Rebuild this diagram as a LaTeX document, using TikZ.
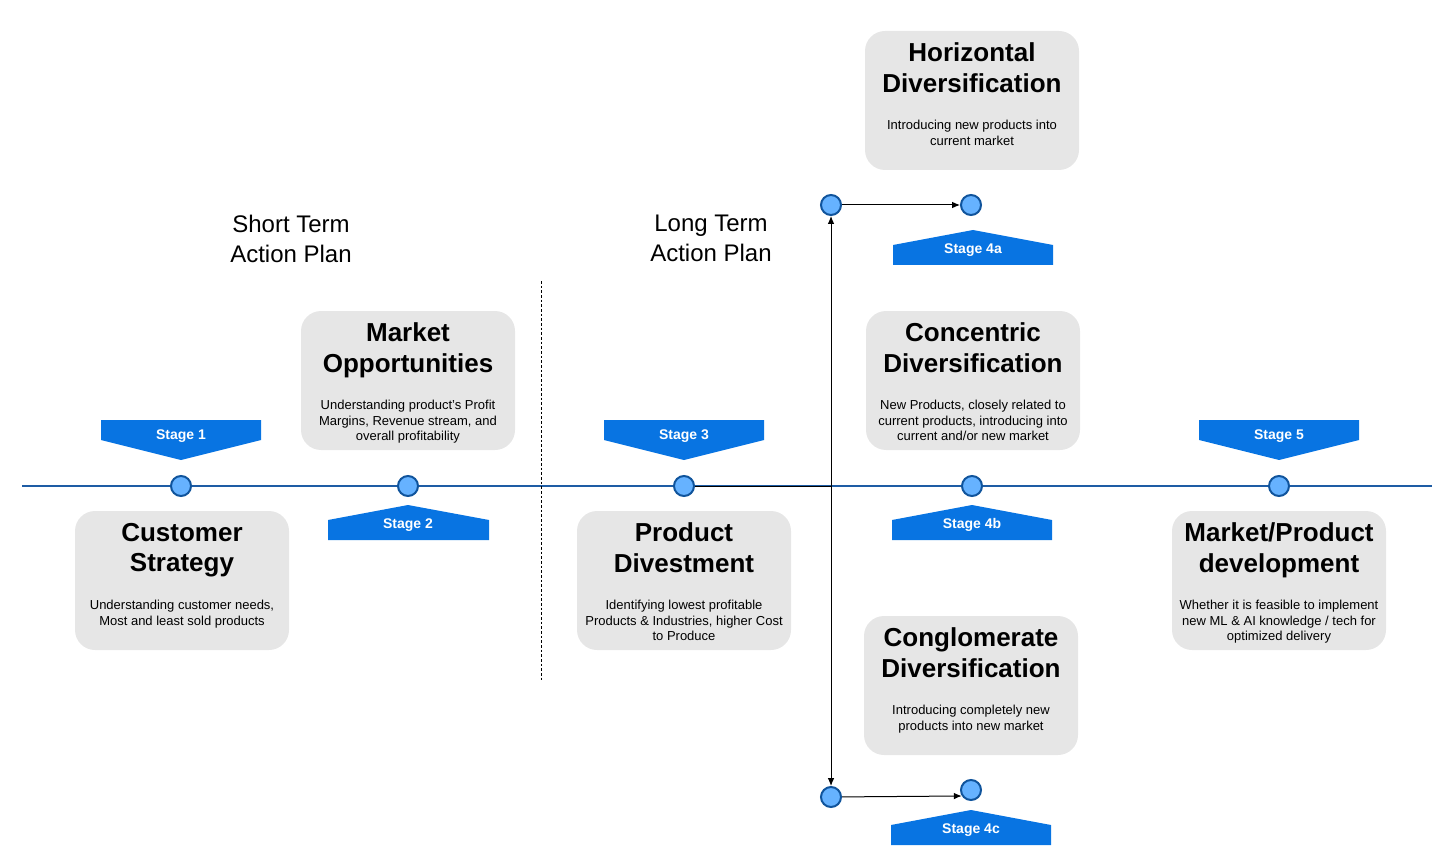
\documentclass[tikz,border=0pt]{standalone}
\usepackage{fontspec}
\setmainfont{Liberation Sans}
\usepackage{tikz}
\usetikzlibrary{arrows.meta}
\usetikzlibrary{positioning}

\definecolor{cardgray}{RGB}{230,230,230}
\definecolor{stageblue}{RGB}{8,116,226}
\definecolor{dotfill}{RGB}{102,178,255}
\definecolor{dotline}{RGB}{16,84,156}
\definecolor{lineblue}{RGB}{30,92,164}

\tikzset{
  card/.style={rectangle, rounded corners=15pt, fill=cardgray, minimum width=160.5pt, minimum height=104.25pt},
  cardtitle/.style={inner sep=0pt, align=center, font=\fontsize{19.5}{23}\selectfont\bfseries},
  carddesc/.style={inner sep=0pt, align=center, font=\fontsize{9.75}{11.7}\selectfont},
  stagelabel/.style={inner sep=0pt, text=white, font=\fontsize{10.5}{12}\selectfont\bfseries},
  planlabel/.style={inner sep=0pt, align=center, font=\fontsize{18}{22.5}\selectfont},
  dot/.style={circle, inner sep=0pt, minimum size=15pt, fill=dotfill, draw=dotline, line width=1.5pt},
  link/.style={draw=black, line width=0.75pt, -{Latex[length=6pt, width=5pt]}}
}

\begin{document}
\begin{tikzpicture}[x=0.75pt, y=-0.75pt]
\useasboundingbox (0,0) rectangle (1452,866);

% timeline and divider
\draw [lineblue, line width=1.5pt] (22,486) -- (1432,486);
\draw [dash pattern=on 2pt off 1.5pt, line width=0.75pt] (541,281) -- (541,681);

\node [planlabel, anchor=north] (short) at (291,215) {Short Term\\Action Plan};
\node [planlabel, anchor=north] (long) at (711,215) {Long Term\\Action Plan};

% cards
\node [card] (cs) at (182,580.5) {};
\node [cardtitle, below=9pt of cs.north] (cst) {Customer\\Strategy};
\node [carddesc, below=66.75pt of cs.north] (csd) {Understanding customer needs,\\Most and least sold products};

\node [card] (mo) at (408,380.5) {};
\node [cardtitle, below=9pt of mo.north] (mot) {Market\\Opportunities};
\node [carddesc, below=66.75pt of mo.north] (mod) {Understanding product's Profit\\Margins, Revenue stream, and\\overall profitability};

\node [card] (pd) at (684,580.5) {};
\node [cardtitle, below=9pt of pd.north] (pdt) {Product\\Divestment};
\node [carddesc, below=66.75pt of pd.north] (pdd) {Identifying lowest profitable\\Products \& Industries, higher Cost\\to Produce};

\node [card] (hd) at (972,100.5) {};
\node [cardtitle, below=9pt of hd.north] (hdt) {Horizontal\\Diversification};
\node [carddesc, below=66.75pt of hd.north] (hdd) {Introducing new products into\\current market};

\node [card] (cd) at (973,380.5) {};
\node [cardtitle, below=9pt of cd.north] (cdt) {Concentric\\Diversification};
\node [carddesc, below=66.75pt of cd.north] (cdd) {New Products, closely related to\\current products, introducing into\\current and/or new market};

\node [card] (cg) at (971,685.5) {};
\node [cardtitle, below=9pt of cg.north] (cgt) {Conglomerate\\Diversification};
\node [carddesc, below=66.75pt of cg.north] (cgd) {Introducing completely new\\products into new market};

\node [card] (mp) at (1279,580.5) {};
\node [cardtitle, below=9pt of mp.north] (mpt) {Market/Product\\development};
\node [carddesc, below=66.75pt of mp.north] (mpd) {Whether it is feasible to implement\\new ML \& AI knowledge / tech for\\optimized delivery};

% stage banners
\fill [stageblue] (101,420) -- (261,420) -- (261,440) -- (181,460) -- (101,440) -- cycle;
\node [stagelabel] (l1) at (181,436) {Stage 1};
\fill [stageblue] (328,540) -- (489,540) -- (489,520) -- (408,505) -- (328,520) -- cycle;
\node [stagelabel] (l2) at (408,525) {Stage 2};
\fill [stageblue] (604,420) -- (764,420) -- (764,440) -- (684,460) -- (604,440) -- cycle;
\node [stagelabel] (l3) at (684,436) {Stage 3};
\fill [stageblue] (893,265) -- (1053,265) -- (1053,245) -- (973,230) -- (893,245) -- cycle;
\node [stagelabel] (l4a) at (973,250) {Stage 4a};
\fill [stageblue] (892,540) -- (1052,540) -- (1052,520) -- (972,505) -- (892,520) -- cycle;
\node [stagelabel] (l4b) at (972,525) {Stage 4b};
\fill [stageblue] (891,845) -- (1051,845) -- (1051,825) -- (971,810) -- (891,825) -- cycle;
\node [stagelabel] (l4c) at (971,830) {Stage 4c};
\fill [stageblue] (1199,420) -- (1359,420) -- (1359,440) -- (1279,460) -- (1199,440) -- cycle;
\node [stagelabel] (l5) at (1279,436) {Stage 5};

% milestones
\node [dot] (s1) at (181,486) {};
\node [dot] (s2) at (408,486) {};
\node [dot] (s3) at (684,486) {};
\node [dot] (s4b) at (972,486) {};
\node [dot] (s5) at (1279,486) {};
\node [dot] (s4a) at (971,205) {};
\node [dot] (s4c) at (971,790) {};
\node [dot] (up) at (831,205) {};
\node [dot] (down) at (831,797) {};
\coordinate (fork) at (831,486);

\draw [link, -] (s3) -- (fork);
\draw [link] (fork) -- (up);
\draw [link] (fork) -- (down);
\draw [link] (up) -- (s4a);
\draw [link] (down) -- (s4c.213);
\end{tikzpicture}
\end{document}
